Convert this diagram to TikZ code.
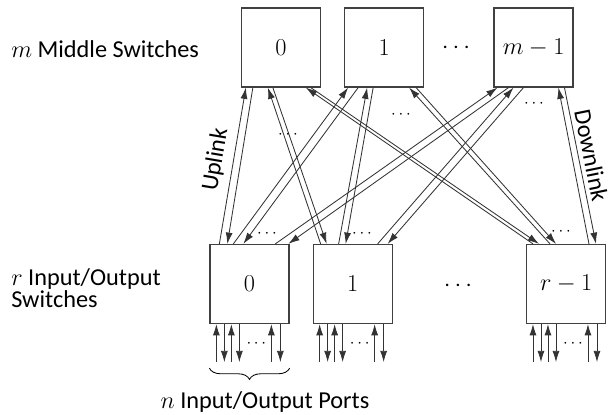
\documentclass[tikz,border=0pt]{standalone}
\usepackage{fontspec}
\setmainfont{Carlito}
\usetikzlibrary{arrows.meta, calc, positioning, decorations.pathreplacing}

\begin{document}
\begin{tikzpicture}[x=0.025cm, y=-0.025cm,
    switchbox/.style={draw=black!75, line width=0.9pt, minimum size=1.975cm, inner sep=0pt, font=\LARGE},
    link/.style={draw=black!80, line width=0.6pt, -{Latex[length=8pt,width=5pt]}},
    lbl/.style={font=\LARGE, inner sep=0pt}]
  \useasboundingbox (0,0) rectangle (611,414);

  % middle switches
  \node[switchbox] (top0) at (281,47.5) {$0$};
  \node[switchbox, right=0.575cm of top0] (top1) {$1$};
  \node[switchbox, right=1.725cm of top1] (topm) {$m-1$};
  \node[font=\LARGE] (topdots) at (456,48) {$\cdots$};

  % input/output switches
  \node[switchbox] (bot0) at (249.5,284) {$0$};
  \node[switchbox, right=0.575cm of bot0] (bot1) {$1$};
  \node[switchbox, right=3.325cm of bot1] (botr) {$r-1$};
  \node[font=\LARGE] (botdots) at (458,286) {$\cdots$};

  % uplink / downlink pairs: bottom/top/top offsets/bottom offsets
  \foreach \i/\j/\tu/\td/\bu/\bd in {0/0/5/12/10/18, 1/0/27/32/8/14, r/0/65/70/7/13,
                                     0/1/4/14/24/34, 1/1/23/29/26/33, r/1/65/72/24/30,
                                     0/m/4/15/66/79, 1/m/20/30/65/75, r/m/65/71/63/70} {
    \draw[link] ($(bot\i.north west)+(\bu,0)$) -- ($(top\j.south west)+(\tu,0)$);
    \draw[link] ($(top\j.south west)+(\td,0)$) -- ($(bot\i.north west)+(\bd,0)$);
  }

  % dots between the links
  \node[font=\large] (d0) at (288,135) {$\cdots$};
  \node[font=\large] (d1) at (401,115) {$\cdots$};
  \node[font=\large] (d2) at (534,104) {$\cdots$};
  \node[font=\large] (d3) at (267,234) {$\cdots$};
  \node[font=\large] (d4) at (362,234) {$\cdots$};
  \node[font=\large] (d5) at (561,232) {$\cdots$};

  % input/output ports
  \foreach \b in {bot0,bot1,botr} {
    \foreach \u/\d in {7/15,22/30,62/71} {
      \draw[link] ($(\b.south west)+(\u,38)$) -- ($(\b.south west)+(\u,0)$);
      \draw[link] ($(\b.south west)+(\d,0)$) -- ($(\b.south west)+(\d,38)$);
    }
    \node[font=\large] (\b dots) at ($(\b.south west)+(47,20)$) {$\cdots$};
  }

  \draw[decorate, decoration={brace, mirror, amplitude=8pt}, line width=0.6pt]
    ($(bot0.south west)+(0,44)$) -- ($(bot0.south east)+(0,44)$);

  % labels
  \path ($(bot0.north west)+(10,0)$) -- ($(top0.south west)+(5,0)$)
    node[pos=0.52, sloped, above=5pt, lbl] (uplbl) {Uplink};
  \path ($(topm.south west)+(71,0)$) -- ($(botr.north west)+(70,0)$)
    node[pos=0.45, sloped, above=3pt, lbl] (downlbl) {Downlink};
  \node[lbl, anchor=west] (midlbl) at (11,49) {$m$ Middle Switches};
  \node[lbl, anchor=west, align=left, font=\fontsize{17.28}{13}\selectfont] (iolbl) at (11,288) {$r$ Input/Output\\Switches};
  \node[lbl] (portlbl) at (265,402) {$n$ Input/Output Ports};
\end{tikzpicture}
\end{document}
